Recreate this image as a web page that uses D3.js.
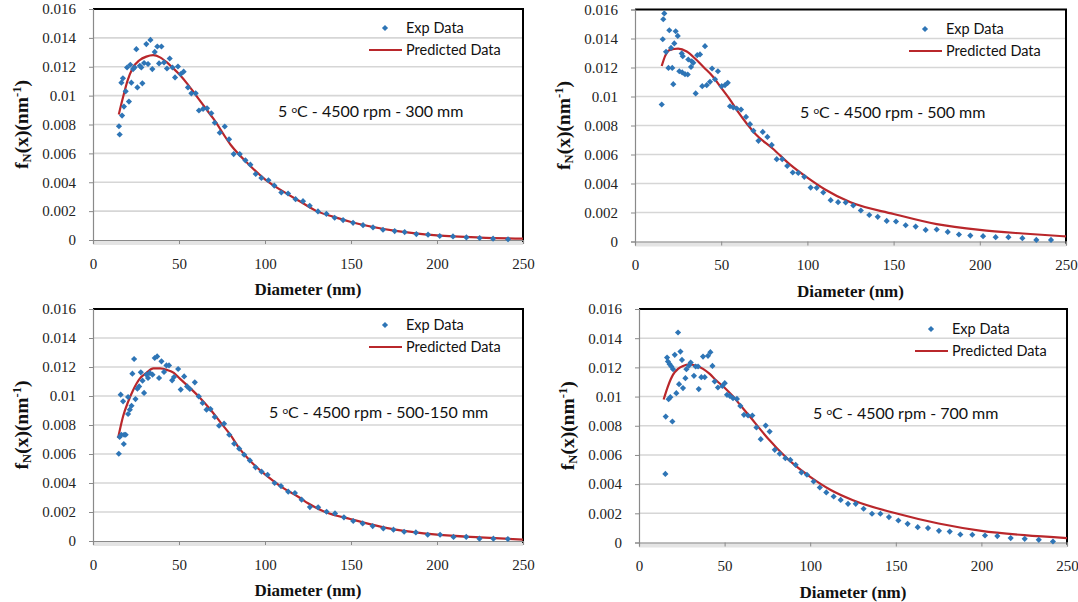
<!DOCTYPE html>
<html>
<head>
<meta charset="utf-8">
<script src="https://cdn.jsdelivr.net/npm/d3@7"></script>
<style>
  body { margin: 0; background: #fff; }
  svg { display: block; }
</style>
</head>
<body>
<svg id="chart" width="1078" height="602"></svg>
<script>
// axis ticks
const xTicks = [0, 50, 100, 150, 200, 250];
const yTicks = [0, 0.002, 0.004, 0.006, 0.008, 0.01, 0.012, 0.014, 0.016];
const yTickLabels = ["0", "0.002", "0.004", "0.006", "0.008", "0.01", "0.012", "0.014", "0.016"];
const seriesNames = ["Exp Data", "Predicted Data"];
const conditions = ["300 mm", "500 mm", "500-150 mm", "700 mm"];

// 300 mm
const exp1 = [[15.1,0.00788],[15.5,0.00731],[16.5,0.0109],[16.9,0.00862],[17.4,0.0112],[18.0,0.00924],[19.0,0.0103],[19.8,0.01195],[20.9,0.00959],[21.7,0.01214],[22.3,0.0109],[23.3,0.01184],[24.2,0.01195],[25.2,0.01322],[25.8,0.01057],[27.2,0.01207],[28.1,0.01195],[28.7,0.01085],[29.7,0.01226],[31.0,0.01357],[32.0,0.01219],[33.4,0.01386],[34.5,0.01184],[35.9,0.01303],[37.4,0.0134],[38.4,0.01223],[39.8,0.0134],[41.3,0.0123],[43.0,0.01188],[44.6,0.01257],[46.2,0.01195],[47.7,0.01126],[49.4,0.01202],[51.0,0.0115],[52.7,0.01166],[55.2,0.01057],[57.2,0.01016],[59.7,0.01016],[61.6,0.00897],[64.0,0.00908],[66.3,0.00912],[68.8,0.00878],[70.8,0.00812],[73.7,0.00743],[76.6,0.00786],[79.1,0.00697],[81.8,0.00595],[85.3,0.00595],[88.6,0.00552],[91.5,0.00522],[94.6,0.00457],[97.9,0.0043],[102.0,0.00414],[105.4,0.00377],[109.5,0.00329],[113.4,0.00322],[117.8,0.00283],[122.1,0.00269],[126.0,0.00237],[130.8,0.00198],[135.7,0.00181],[140.5,0.00154],[145.4,0.00138],[151.2,0.00119],[157.0,0.00103],[162.8,0.00087],[168.6,0.00071],[175.4,0.00062],[181.2,0.00055],[188.0,0.00041],[194.8,0.00037],[201.6,0.00028],[209.3,0.00025],[217.1,0.00018],[224.8,0.00014],[232.6,0.00009],[241.3,0.00005]];
const pred1 = [[15,0.0087],[17.5,0.0099],[20,0.0110],[23,0.0119],[27,0.01245],[31,0.0127],[35,0.0128],[39,0.01265],[43,0.0123],[47,0.01185],[50,0.0115],[55,0.0108],[60,0.0100],[65,0.0092],[70,0.0084],[80,0.0066],[90,0.0053],[100,0.0042],[110,0.0034],[120,0.0027],[130,0.0020],[140,0.0016],[150,0.00125],[175,0.00065],[200,0.00032],[225,0.00017],[250,0.0001]];

// 500 mm
const exp2 = [[15.5,0.00945],[16.1,0.01395],[16.4,0.01533],[17.0,0.01573],[18.0,0.01308],[19.4,0.01197],[19.9,0.01457],[20.9,0.01335],[21.6,0.01197],[22.2,0.01085],[22.8,0.01366],[23.6,0.0145],[24.8,0.01418],[25.7,0.01174],[27.1,0.01297],[27.4,0.01166],[27.7,0.01278],[29.0,0.01154],[30.6,0.01152],[30.9,0.01255],[32.5,0.01204],[32.9,0.01243],[33.8,0.01232],[35.2,0.01021],[36.1,0.01285],[37.7,0.0129],[39.0,0.01071],[40.6,0.01347],[41.6,0.01078],[43.5,0.01101],[44.7,0.01193],[46.4,0.01119],[48.1,0.01174],[50.3,0.01071],[52.2,0.01078],[53.8,0.01094],[55.1,0.00933],[57.0,0.00924],[59.0,0.00917],[61.5,0.0091],[64.4,0.00859],[66.7,0.00809],[68.7,0.00763],[71.6,0.00694],[74.1,0.00756],[76.8,0.00721],[79.3,0.00666],[82.2,0.00568],[85.4,0.00568],[88.3,0.00521],[91.5,0.00476],[94.7,0.00473],[98.2,0.00446],[101.9,0.00372],[105.4,0.0037],[109.2,0.00338],[113.5,0.00285],[117.8,0.00271],[122.2,0.00269],[126.6,0.00248],[131.0,0.00214],[135.9,0.00183],[140.8,0.0017],[146.0,0.00142],[151.4,0.00138],[157.0,0.00112],[162.8,0.00103],[168.6,0.0008],[175.0,0.00083],[181.4,0.00066],[187.9,0.00048],[194.5,0.00041],[201.9,0.00037],[209.2,0.0003],[216.6,0.0003],[224.7,0.00023],[232.8,0.00011],[241.3,0.00011]];
const pred2 = [[15.5,0.0121],[17.5,0.0128],[20,0.0132],[25,0.0133],[30,0.0131],[35,0.0126],[40,0.0120],[45,0.0114],[50,0.0106],[55,0.0098],[60,0.0089],[65,0.0081],[70,0.0074],[80,0.0064],[90,0.0053],[100,0.0044],[110,0.0036],[125,0.0027],[150,0.0019],[175,0.0012],[200,0.0008],[225,0.00055],[250,0.00035]];

// 500-150 mm
const exp3 = [[15.0,0.00602],[15.5,0.00717],[16.1,0.01009],[16.5,0.00733],[17.5,0.00963],[17.9,0.00669],[18.1,0.00733],[19.0,0.00733],[20.4,0.00876],[20.4,0.00993],[21.4,0.00906],[22.4,0.00933],[22.9,0.01154],[23.9,0.01255],[24.7,0.00979],[25.8,0.0105],[26.8,0.01066],[27.8,0.01163],[28.8,0.01106],[29.7,0.01021],[31.1,0.01147],[32.0,0.01124],[33.0,0.01159],[34.6,0.01147],[35.9,0.01262],[37.3,0.01273],[38.4,0.01124],[39.8,0.01239],[41.3,0.01166],[42.7,0.01211],[44.2,0.01211],[46.0,0.01108],[47.1,0.01131],[49.5,0.01186],[51.0,0.01044],[53.0,0.01135],[54.7,0.01066],[56.3,0.01048],[59.2,0.01094],[61.5,0.00997],[63.7,0.00952],[66.0,0.00906],[68.3,0.0091],[70.8,0.00855],[73.3,0.00795],[76.2,0.00809],[79.2,0.00733],[82.1,0.00671],[85.0,0.00637],[87.9,0.00595],[91.2,0.00556],[94.5,0.00508],[98.0,0.00478],[101.5,0.00457],[105.6,0.004],[109.3,0.00379],[113.5,0.0034],[117.4,0.00331],[121.3,0.00285],[126.1,0.00234],[130.9,0.00232],[135.8,0.00202],[140.7,0.0019],[145.9,0.00163],[151.3,0.00138],[156.8,0.00121],[162.6,0.00103],[168.8,0.00087],[174.7,0.00078],[180.9,0.00064],[187.7,0.00059],[194.6,0.00043],[201.8,0.00043],[209.6,0.00028],[217.0,0.00028],[224.7,0.00016],[232.8,0.00016],[241.2,0.00014]];
const pred3 = [[14.6,0.0071],[17.5,0.0086],[20.4,0.0096],[23.3,0.0104],[27.2,0.0112],[31.1,0.0116],[35,0.0119],[39,0.0119],[43,0.0118],[47,0.0116],[50.5,0.0112],[56,0.0106],[62,0.0099],[68,0.0091],[74,0.0082],[80,0.0073],[85,0.0064],[90,0.0057],[95,0.0051],[100,0.0046],[110,0.0037],[120,0.0030],[125,0.0026],[135,0.0020],[150,0.0015],[175,0.0008],[200,0.00044],[225,0.00025],[250,0.0001]];

// 700 mm
const exp4 = [[15.4,0.0047],[15.6,0.00863],[16.4,0.01267],[16.9,0.0124],[17.3,0.00982],[17.9,0.01222],[18.3,0.00996],[18.9,0.01206],[19.5,0.00829],[19.9,0.01188],[20.9,0.01286],[21.8,0.01023],[22.8,0.01439],[23.4,0.01085],[24.2,0.01308],[25.1,0.01251],[25.7,0.01058],[27.1,0.01126],[27.7,0.01188],[29.2,0.01212],[30.2,0.01233],[32.1,0.01142],[33.1,0.01206],[34.5,0.01206],[34.9,0.01051],[36.4,0.01133],[37.4,0.01274],[38.4,0.01133],[40.3,0.01279],[41.7,0.01304],[42.9,0.0121],[44.2,0.01103],[46.1,0.01062],[48.7,0.01073],[50.1,0.01092],[51.4,0.01012],[53.0,0.01005],[54.9,0.00989],[57.2,0.00984],[59.2,0.00936],[61.3,0.00875],[63.7,0.0087],[66.2,0.0087],[68.6,0.00788],[71.1,0.00708],[74.0,0.00801],[76.3,0.0076],[79.3,0.00635],[82.2,0.00608],[85.5,0.00578],[88.4,0.00566],[91.5,0.00532],[94.9,0.0048],[98.1,0.00464],[102.0,0.00418],[105.6,0.00377],[109.4,0.00343],[113.7,0.00315],[117.8,0.00292],[122.1,0.00265],[126.6,0.00265],[131.2,0.00231],[136.1,0.00197],[141.0,0.00197],[146.0,0.00174],[151.5,0.00151],[156.9,0.00128],[162.8,0.00105],[168.8,0.00099],[175.2,0.0008],[181.5,0.00075],[187.7,0.00055],[194.7,0.00053],[202.1,0.00048],[209.3,0.00044],[217.1,0.0003],[225.3,0.00025],[233.5,0.00018],[241.8,0.00007]];
const pred4 = [[14.4,0.0098],[16.9,0.0107],[19.9,0.0115],[22.8,0.0119],[25.7,0.0121],[29.6,0.0122],[33.5,0.0121],[37.4,0.0119],[41.3,0.01155],[45.2,0.0111],[50,0.0106],[55,0.0100],[60,0.0093],[65,0.0086],[70.5,0.0078],[76.3,0.0070],[80.3,0.0065],[90,0.0054],[100,0.0045],[112,0.0036],[125,0.0029],[150,0.0020],[175,0.0013],[200,0.0008],[225,0.0005],[250,0.0003]];

const expSets = [exp1, exp2, exp3, exp4];
const predSets = [pred1, pred2, pred3, pred4];

// plot-area boxes and label offsets
const layout = [
  { left: 93,  top: 9,   right: 523,  bottom: 240,   noteX: 185, noteY: 103, legX: 292, legY: 19 },
  { left: 635, top: 9.5, right: 1066, bottom: 241.5, noteX: 165, noteY: 103, legX: 290, legY: 19.5 },
  { left: 93,  top: 309, right: 523,  bottom: 541,   noteX: 176, noteY: 104, legX: 292, legY: 16 },
  { left: 639, top: 309, right: 1067, bottom: 542.5, noteX: 174, noteY: 105, legX: 292, legY: 20 }
];

const blue = "#2e75b6";
const red = "#b9272b";
const serif = "'Liberation Serif', 'Times New Roman', serif";
const sans = "Lato, 'Liberation Sans', sans-serif";

const svg = d3.select("#chart");
const diamond = d3.symbol().type(d3.symbolSquare).size(19);

layout.forEach((L, i) => {
  const g = svg.append("g");
  const x = d3.scaleLinear().domain([0, 250]).range([L.left, L.right]);
  const y = d3.scaleLinear().domain([0, 0.016]).range([L.bottom, L.top]);

  // gridlines
  g.append("g").selectAll("line")
    .data(yTicks.slice(1, -1))
    .join("line")
    .attr("x1", L.left).attr("x2", L.right)
    .attr("y1", d => y(d)).attr("y2", d => y(d))
    .attr("stroke", "#d6d6d6")
    .attr("stroke-width", 1.6);

  // soft shadow under the x axis
  g.append("rect")
    .attr("x", L.left).attr("y", L.bottom)
    .attr("width", L.right - L.left).attr("height", 5)
    .attr("fill", "#e4e4e4");

  // black frame top and right
  g.append("path")
    .attr("d", `M${L.left},${L.top}H${L.right}V${L.bottom + 2}`)
    .attr("fill", "none")
    .attr("stroke", "#000")
    .attr("stroke-width", 2);

  const yAxis = g.append("g")
    .attr("transform", `translate(${L.left},0)`)
    .call(d3.axisLeft(y).tickValues(yTicks).tickFormat((d, k) => yTickLabels[k]).tickSize(4).tickPadding(13));

  const xAxis = g.append("g")
    .attr("transform", `translate(0,${L.bottom})`)
    .call(d3.axisBottom(x).tickValues(xTicks).tickSize(4).tickPadding(14));

  [yAxis, xAxis].forEach(a => {
    a.selectAll(".domain").attr("stroke", "#8a8a8a").attr("stroke-width", 1.2);
    a.selectAll(".tick line").attr("stroke", "#8a8a8a");
    a.selectAll("text").attr("font-family", serif).attr("font-size", 15).attr("fill", "#222");
  });

  // predicted curve
  const line = d3.line()
    .x(d => x(d[0]))
    .y(d => y(d[1]))
    .curve(d3.curveMonotoneX);

  g.append("path")
    .datum(predSets[i])
    .attr("d", line)
    .attr("fill", "none")
    .attr("stroke", red)
    .attr("stroke-width", 2.2);

  // experimental points
  g.append("g").selectAll("path")
    .data(expSets[i])
    .join("path")
    .attr("d", diamond)
    .attr("transform", d => `translate(${x(d[0])},${y(d[1])}) rotate(45)`)
    .attr("fill", blue);

  // axis titles
  g.append("text")
    .attr("x", (L.left + L.right) / 2)
    .attr("y", L.bottom + 55)
    .attr("text-anchor", "middle")
    .attr("font-family", serif)
    .attr("font-weight", "bold")
    .attr("font-size", 17)
    .attr("fill", "#111")
    .text("Diameter (nm)");

  const yt = g.append("text")
    .attr("transform", `translate(${L.left - 65},${(L.top + L.bottom) / 2}) rotate(-90)`)
    .attr("text-anchor", "middle")
    .attr("font-family", serif)
    .attr("font-weight", "bold")
    .attr("font-size", 19.5)
    .attr("fill", "#111");
  yt.append("tspan").text("f");
  yt.append("tspan").attr("font-size", 12.5).attr("baseline-shift", "-25%").text("N");
  yt.append("tspan").text("(x)(nm");
  yt.append("tspan").attr("font-size", 12.5).attr("baseline-shift", "55%").text("-1");
  yt.append("tspan").text(")");

  // condition note
  const note = g.append("text")
    .attr("x", L.left + L.noteX)
    .attr("y", L.top + L.noteY + 5)
    .attr("font-family", sans)
    .attr("font-size", 16)
    .attr("fill", "#111");
  note.append("tspan").text("5 ");
  note.append("tspan").attr("font-size", 10).attr("baseline-shift", "45%").text("o");
  note.append("tspan").text("C - 4500 rpm - " + conditions[i]);

  // legend
  const lx = L.left + L.legX, ly = L.top + L.legY;
  g.append("path")
    .attr("d", diamond)
    .attr("transform", `translate(${lx},${ly}) rotate(45)`)
    .attr("fill", blue);
  g.append("line")
    .attr("x1", lx - 16).attr("x2", lx + 17)
    .attr("y1", ly + 22).attr("y2", ly + 22)
    .attr("stroke", red)
    .attr("stroke-width", 2.2);
  g.selectAll(".leg")
    .data(seriesNames)
    .join("text")
    .attr("x", lx + 21)
    .attr("y", (d, k) => ly + 5 + k * 22)
    .attr("font-family", sans)
    .attr("font-size", 14.5)
    .attr("fill", "#111")
    .text(d => d);
});
</script>
</body>
</html>
